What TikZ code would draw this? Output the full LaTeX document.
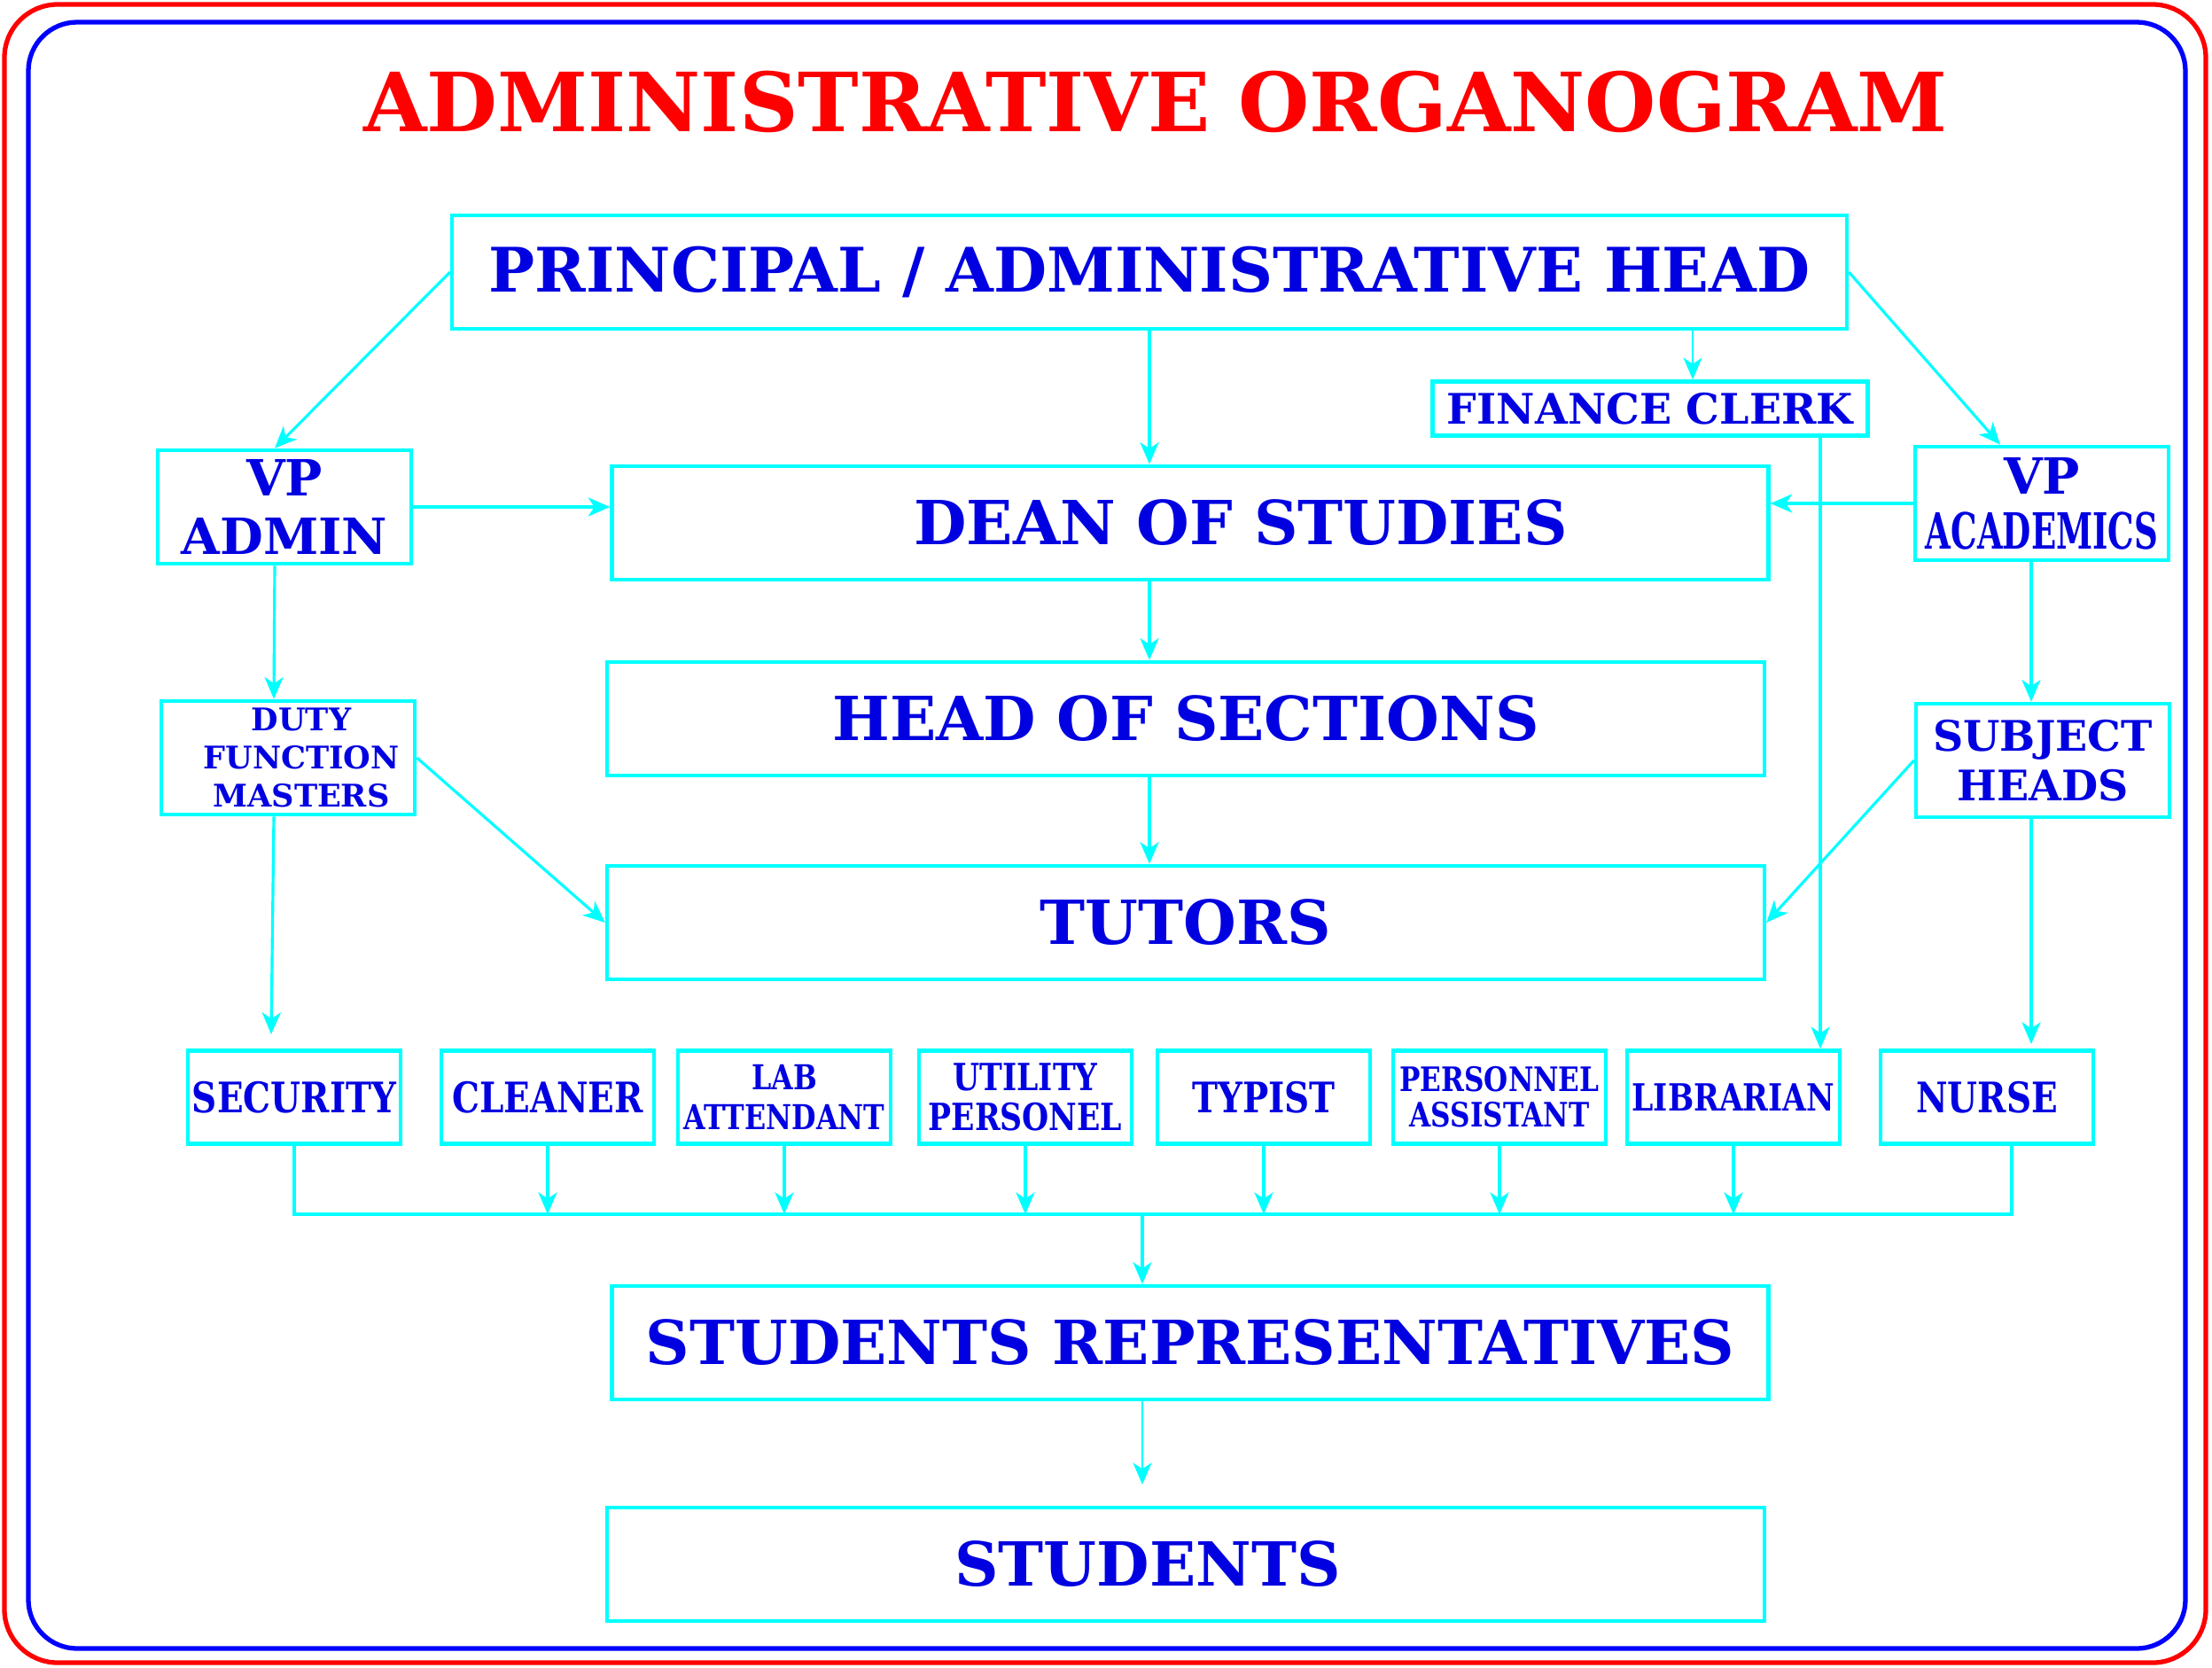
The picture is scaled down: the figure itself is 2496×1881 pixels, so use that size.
\documentclass[tikz,border=0pt]{standalone}
\usepackage{fontspec}
\setmainfont{DejaVu Serif}
\newfontfamily\condfont{DejaVu Serif}[FakeStretch=0.82]
\usetikzlibrary{arrows.meta,positioning}
\definecolor{linecyan}{RGB}{0,255,255}
\definecolor{textblue}{RGB}{0,0,225}
\definecolor{framered}{RGB}{255,0,0}
\definecolor{frameblue}{RGB}{0,0,255}
\newcommand{\fsz}[2]{\fontsize{#1}{#2}\selectfont\bfseries}

\begin{document}
\begin{tikzpicture}[
    x=0.01cm, y=-0.01cm,
    box/.style={rectangle,draw=linecyan,line width=1.3pt,inner sep=0pt,
      align=center,text=textblue},
    mainbox/.style={box,minimum width=13.05cm,minimum height=1.28cm,font=\fsz{19.5}{24}},
    sidebox/.style={box,minimum width=2.86cm,minimum height=1.28cm},
    staffbox/.style={box,minimum width=2.4cm,minimum height=1.05cm},
    arrow/.style={draw=linecyan,line width=0.9pt,-{Stealth[length=7pt,width=6pt,inset=2pt]}},
    link/.style={draw=linecyan,line width=0.9pt}
  ]
    \useasboundingbox (0,0) rectangle (2496,1881);
    % frames
    \draw[framered,line width=1.5pt,rounded corners=0.6cm] (5,5) rectangle (2489,1876);
    \draw[frameblue,line width=1.5pt,rounded corners=0.55cm] (32,25) rectangle (2466,1860);

    \node[text=framered,font=\fsz{26.2}{30}] (title) at (1304,115) {ADMINISTRATIVE ORGANOGRAM};

    \node[mainbox,minimum width=15.73cm,font=\fsz{19.7}{24}] (head) at (1297,307) {PRINCIPAL / ADMINISTRATIVE HEAD};
    \node[box,minimum width=4.91cm,minimum height=0.61cm,font=\fsz{13.5}{16}] (clerk) at (1862,461) {FINANCE CLERK};
    \node[sidebox,font=\fsz{16}{18.5}] (vpadm) at (321,572) {VP\\ADMIN};
    \node[mainbox,minimum width=13.04cm] (dean) at (1343,590) {\hspace*{1.14cm}DEAN OF STUDIES};
    \node[sidebox,font=\fsz{16}{17.6}] (vpacad) at (2304,568) {VP\\\scalebox{0.66}[1]{ACADEMICS}};
    \node[mainbox] (heads) at (1338,811) {HEAD OF SECTIONS};
    \node[sidebox,font=\fsz{10}{12.2}] (duty) at (325,855) {\hspace*{0.3cm}DUTY\\\hspace*{0.3cm}FUNCTION\\\hspace*{0.3cm}MASTERS};
    \node[sidebox,font=\fsz{13.5}{15.8}] (subj) at (2305,858) {SUBJECT\\HEADS};
    \node[mainbox] (tutors) at (1338,1041) {TUTORS};

    % support staff
    \node[staffbox,font=\condfont\fsz{13.5}{16}] (secur) at (332,1238) {SECURITY};
    \node[staffbox,font=\condfont\fsz{13.5}{16}] (clean) at (618,1238) {CLEANER};
    \node[staffbox,font=\condfont\fsz{11}{13}] (lab) at (885,1238) {LAB\\ATTENDANT};
    \node[staffbox,font=\condfont\fsz{12}{13}] (util) at (1157,1238) {UTILITY\\PERSONEL};
    \node[staffbox,font=\condfont\fsz{13.5}{16}] (typist) at (1426,1238) {TYPIST};
    \node[staffbox,font=\condfont\fsz{10.8}{11.3}] (pers) at (1692,1238) {PERSONNEL\\ASSISTANT};
    \node[staffbox,font=\condfont\fsz{12}{14}] (libr) at (1956,1238) {LIBRARIAN};
    \node[staffbox,font=\condfont\fsz{13.5}{16}] (nurse) at (2242,1238) {NURSE};

    \node[mainbox,minimum width=13.04cm] (reps) at (1343,1515) {STUDENTS REPRESENTATIVES};
    \node[mainbox] (stud) at (1338,1765) {STUDENTS\hspace*{0.86cm}};

    \coordinate (clerkin) at ([xshift=4.8mm]clerk.north);
    \coordinate (librin) at ([xshift=9.8mm]libr.north);
    \coordinate (dutyend) at (306,1167);
    \coordinate (nursein) at (2292,1178);
    \coordinate (bus) at (1289,1370);
    \coordinate (studin) at (1289,1675);

    \draw[arrow] (head.west) -- ([xshift=-1.1mm]vpadm.north);
    \draw[arrow] (head.south) -- (head.south |- dean.north);
    \draw[arrow,line width=0.5pt] (clerkin |- head.south) -- (clerkin);
    \draw[arrow] (head.east) -- ([xshift=-4.7mm]vpacad.north);
    \draw[arrow] (vpadm.east) -- (vpadm.east -| dean.west);
    \draw[arrow] (vpacad.west) -- (vpacad.west -| dean.east);
    \draw[arrow] (librin |- clerk.south) -- (librin);
    \draw[arrow] ([xshift=-1.1mm]vpadm.south) -- ([xshift=-1.6mm]duty.north);
    \draw[arrow] ([xshift=-1.6mm]duty.south) -- (dutyend);
    \draw[arrow] (duty.east) -- (tutors.west);
    \draw[arrow] (head.south |- dean.south) -- (head.south |- heads.north);
    \draw[arrow] (head.south |- heads.south) -- (head.south |- tutors.north);
    \draw[arrow] (nursein |- vpacad.south) -- (nursein |- subj.north);
    \draw[arrow] (subj.west) -- (tutors.east);
    \draw[arrow] (nursein |- subj.south) -- (nursein);

    % staff bus
    \draw[link] (secur.south) |- (bus) -| ([xshift=2.8mm]nurse.south);
    \foreach \s in {clean,lab,util,typist,pers,libr}
      \draw[arrow] (\s.south) -- (\s.south |- bus);
    \draw[arrow] (bus) -- (bus |- reps.north);
    \draw[arrow,line width=0.6pt] (bus |- reps.south) -- (studin);
  \end{tikzpicture}
\end{document}
